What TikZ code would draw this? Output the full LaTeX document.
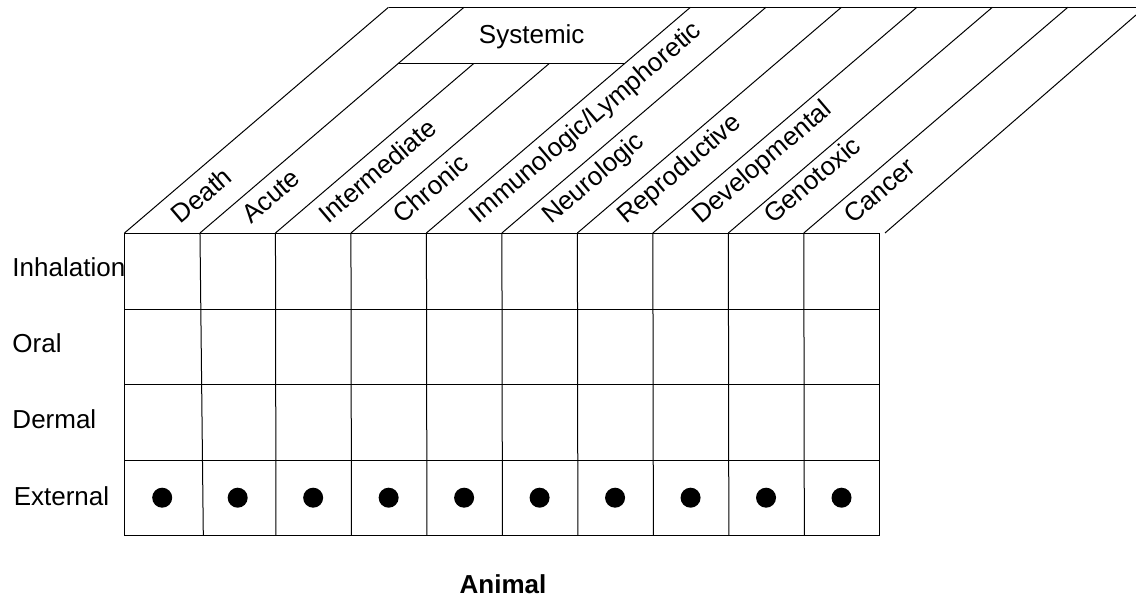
\documentclass[tikz,border=0pt]{standalone}
\usepackage{fontspec}
\setmainfont{Liberation Sans}
\begin{document}
\begin{tikzpicture}[x=1pt,y=-1pt,line width=1pt,
  lab/.style={font=\fontsize{26}{30}\selectfont,inner sep=0pt},
  collab/.style={lab,anchor=base west,rotate=40.5},
  rowlab/.style={lab,anchor=base west},
  dot/.style={fill=black}]
\useasboundingbox (0,0) rectangle (1136,602);
% column top points
\foreach \i in {0,...,10}{
  \coordinate (c\i) at ({124.5+75.48*\i},233);
  \coordinate (t\i) at ({124.5+75.48*\i+264},7.3);
  \coordinate (s\i) at ({124.5+75.48*\i+198.3},63.5);
}
% grid
\draw (124.5,233) rectangle (879.3,535);
\foreach \y in {309,384.5,460}{\draw (124.5,\y) -- (879.3,\y);}
\draw (c1) -- (203.3,535);
\foreach \i in {2,...,9}{\draw (c\i) -- ({124.5+75.48*\i+0.5},535);}
% diagonals
\foreach \i in {0,1,4,5,6,7,8,9}{\draw (c\i) -- (t\i);}
\foreach \i in {2,3}{\draw (c\i) -- (s\i);}
\draw (885,233) -- (1136,15);
\draw (t0) -- (1136,7.3);
\draw (s1) -- (s4);
\node[lab] (systemic) at (531.7,36.5) {Systemic};
% column labels
\node[collab] (death) at (180.5,225) {Death};
\node[collab] (acute) at (251,225) {Acute};
\node[collab] (inter) at (328,225) {Intermediate};
\node[collab] (chronic) at (402,225) {Chronic};
\node[collab] (immuno) at (478,225) {Immunologic/Lymphoretic};
\node[collab] (neuro) at (551,225) {Neurologic};
\node[collab] (repro) at (626,225) {Reproductive};
\node[collab] (devel) at (701,225) {Developmental};
\node[collab] (geno) at (773,225) {Genotoxic};
\node[collab] (cancer) at (853,225) {Cancer};
% row labels
\node[rowlab] (inhal) at (12,276.7) {Inhalation};
\node[rowlab] (oral) at (12,352.7) {Oral};
\node[rowlab] (dermal) at (12,428.3) {Dermal};
\node[rowlab] (external) at (13.3,505) {External};
% dots
\foreach \i in {0,...,9}{\fill[dot] ({162.2+75.48*\i},497.7) circle (10);}
\node[lab,font=\fontsize{26}{30}\selectfont\bfseries,anchor=base] (animal) at (503,593) {Animal};
\end{tikzpicture}
\end{document}
